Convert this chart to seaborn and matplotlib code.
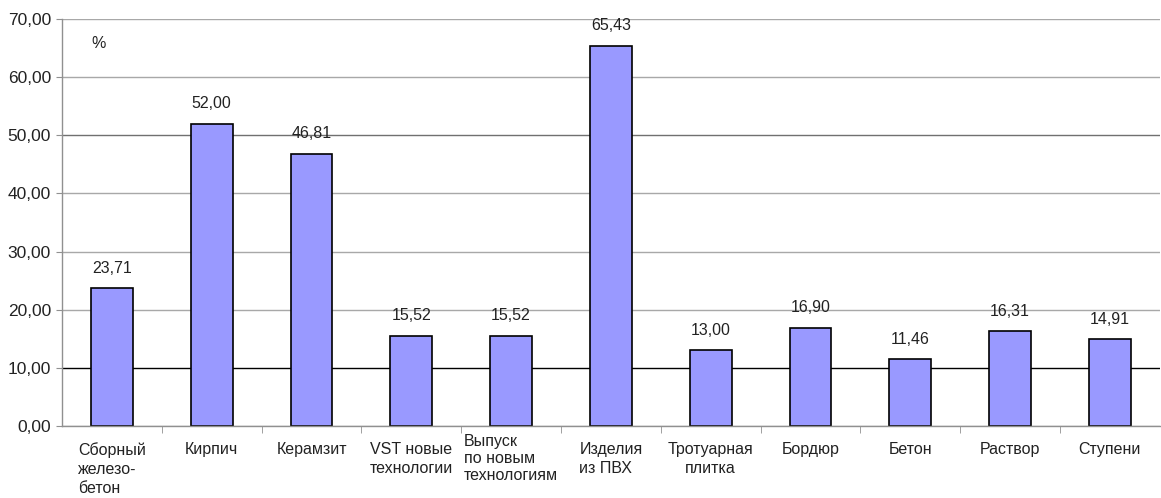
import matplotlib
matplotlib.use("Agg")
import matplotlib.pyplot as plt
import matplotlib.transforms as mtransforms
import seaborn as sns
import pandas as pd

categories = ["Сборный\nжелезо-\nбетон", "Кирпич", "Керамзит", "VST новые\nтехнологии",
              "Выпуск\nпо новым\nтехнологиям", "Изделия\nиз ПВХ", "Тротуарная\nплитка",
              "Бордюр", "Бетон", "Раствор", "Ступени"]
values = [23.71, 52.00, 46.81, 15.52, 15.52, 65.43, 13.00, 16.90, 11.46, 16.31, 14.91]
yticks = [0, 10, 20, 30, 40, 50, 60, 70]
ytick_labels = ["0,00", "10,00", "20,00", "30,00", "40,00", "50,00", "60,00", "70,00"]

sns.set_style("white")
plt.rcParams['font.family'] = ['Liberation Sans', 'DejaVu Sans']

df = pd.DataFrame({"cat": categories, "val": values})

fig = plt.figure(figsize=(11.61, 4.98), dpi=100)
ax = fig.add_axes([0.0534, 0.1446, 0.9456, 0.8172])

sns.barplot(data=df, x="cat", y="val", ax=ax, color="#9999ff", saturation=1,
            edgecolor="black", linewidth=1.2, width=0.42)

ax.set_ylim(0, 70)
ax.set_xlim(-0.5, len(categories) - 0.5)
ax.set_yticks(yticks)
ax.set_yticklabels(ytick_labels, fontsize=12.5, color="#222222")
ax.set_xlabel("")
ax.set_ylabel("")

ax.set_axisbelow(True)
ax.grid(axis="y", color="#a8a8a8", linewidth=1.0)
ax.grid(axis="x", visible=False)
for t, gl in zip(yticks, ax.yaxis.get_gridlines()):
    if t == 10:
        gl.set_color("black")
    elif t == 50:
        gl.set_color("#707070")

for s in ["top", "right"]:
    ax.spines[s].set_visible(False)
for s in ["left", "bottom"]:
    ax.spines[s].set_color("#909090")
    ax.spines[s].set_linewidth(1.0)

ax.tick_params(axis="y", which="major", left=True, length=4, color="#909090", pad=4)
ax.tick_params(axis="x", which="major", bottom=False, pad=8)
ax.set_xticks([i + 0.5 for i in range(len(categories) - 1)], minor=True)
ax.tick_params(axis="x", which="minor", bottom=True, length=5, color="#909090")

ax.set_xticks(range(len(categories)))
ax.set_xticklabels(categories, fontsize=11.5, color="#222222", va="top", ha="center",
                   multialignment="left", linespacing=1.36)
for i, lab in enumerate(ax.get_xticklabels()):
    if "Тротуарная" in lab.get_text():
        lab.set_multialignment("center")
    if "Выпуск" in lab.get_text():
        lab.set_linespacing(1.15)
        lab.set_transform(lab.get_transform() + mtransforms.ScaledTranslation(0, 8/100, fig.dpi_scale_trans))

for i, v in enumerate(values):
    ax.annotate(f"{v:.2f}".replace(".", ","), xy=(i, v), xytext=(0, 9),
                textcoords="offset points", ha="center", va="bottom",
                fontsize=11.5, color="#222222")

ax.text(0.027, 0.941, "%", transform=ax.transAxes, fontsize=11.5, color="#222222",
        ha="left", va="center")

fig.savefig("out.png", dpi=100)
